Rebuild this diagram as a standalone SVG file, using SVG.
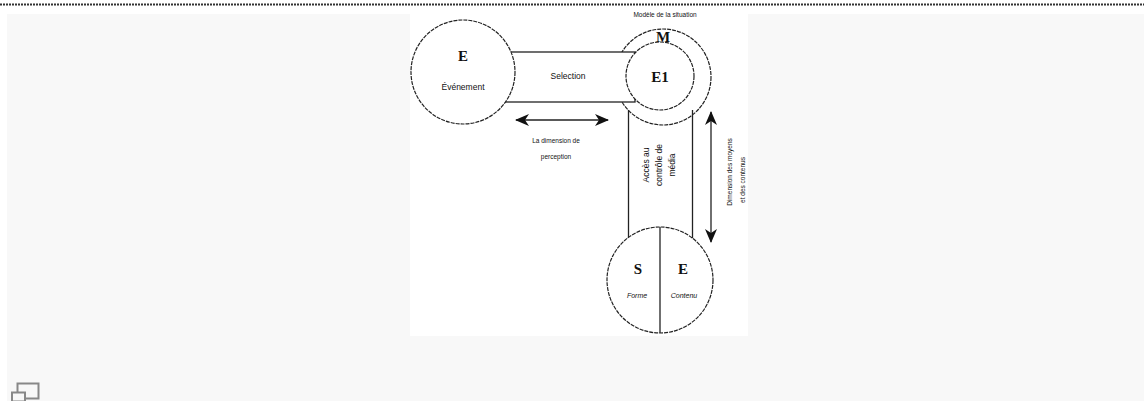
<svg xmlns="http://www.w3.org/2000/svg" width="1144" height="401" viewBox="0 0 1144 401">
<style>
.c{fill:#fff;stroke:#222;stroke-width:1.2;stroke-dasharray:4 1}
.l{stroke:#222;stroke-width:1.3;fill:none}
.big{font-family:"Liberation Serif",serif;font-weight:bold;font-size:15px;fill:#111;text-anchor:middle}
.sm{font-family:"Liberation Sans",sans-serif;font-size:8.5px;fill:#111;text-anchor:middle}
.it{font-family:"Liberation Sans",sans-serif;font-style:italic;font-size:7px;fill:#111;text-anchor:middle}
.xs{font-family:"Liberation Sans",sans-serif;font-size:6.5px;fill:#111;text-anchor:middle}
</style>
<defs>
<marker id="ah" viewBox="0 0 14 12" refX="13" refY="6" markerWidth="14" markerHeight="12" orient="auto-start-reverse" markerUnits="userSpaceOnUse">
<path d="M0,0 L14,6 L0,12 L4,6 z" fill="#111"/>
</marker>
</defs>
<line x1="0" y1="4.5" x2="1144" y2="4.5" stroke="#333" stroke-width="2" stroke-dasharray="2 1"/>
<rect x="7" y="14" width="1137" height="387" fill="#f8f8f8"/>
<rect x="410" y="14" width="338" height="322" fill="#fff"/>
<g id="node-M">
<circle class="c" cx="663" cy="77" r="48"/>
<text class="big" x="663" y="42">M</text>
<text class="xs" x="665" y="17">Modèle de la situation</text>
</g>
<g id="connectors">
<line class="l" x1="628.5" y1="110" x2="628.5" y2="245"/>
<line class="l" x1="692.5" y1="110" x2="692.5" y2="245"/>
<rect x="505" y="52" width="130" height="50" fill="#fff" stroke="#222" stroke-width="1.3"/>
<line class="l" x1="516" y1="120" x2="608" y2="120" stroke-width="2" marker-start="url(#ah)" marker-end="url(#ah)"/>
<line class="l" x1="711" y1="112" x2="711" y2="242" stroke-width="2" marker-start="url(#ah)" marker-end="url(#ah)"/>
</g>
<g id="band-selection">
<text class="sm" x="568" y="79">Selection</text>
</g>
<g id="node-E">
<circle class="c" cx="463" cy="72" r="52"/>
<text class="big" x="463" y="61">E</text>
<text class="sm" x="463" y="90" font-size="8">Événement</text>
</g>
<g id="node-E1">
<circle class="c" cx="660" cy="76" r="34"/>
<text class="big" x="660" y="82">E1</text>
</g>
<g id="band-acces">
<text class="sm" transform="translate(649,165) rotate(-90)">Accès au</text>
<text class="sm" transform="translate(662,165) rotate(-90)">contrôle de</text>
<text class="sm" transform="translate(675,165) rotate(-90)">média</text>
</g>
<g id="node-SE">
<circle class="c" cx="660" cy="280" r="53"/>
<line class="l" x1="660" y1="227" x2="660" y2="333"/>
<text class="big" x="638" y="274">S</text>
<text class="big" x="683" y="274">E</text>
<text class="it" x="637" y="298">Forme</text>
<text class="it" x="684" y="298">Contenu</text>
</g>
<g id="labels">
<text class="xs" x="556" y="143">La dimension de</text>
<text class="xs" x="556" y="159">perception</text>
<text class="xs" transform="translate(732,172) rotate(-90)">Dimension des moyens</text>
<text class="xs" transform="translate(745,180) rotate(-90)">et des contenus</text>
</g>
<g id="icon">
<rect x="17.5" y="383.5" width="21" height="15" fill="none" stroke="#888" stroke-width="2"/>
<rect x="12" y="392.5" width="13" height="9" fill="#f8f8f8" stroke="#888" stroke-width="2"/>
</g>
</svg>
